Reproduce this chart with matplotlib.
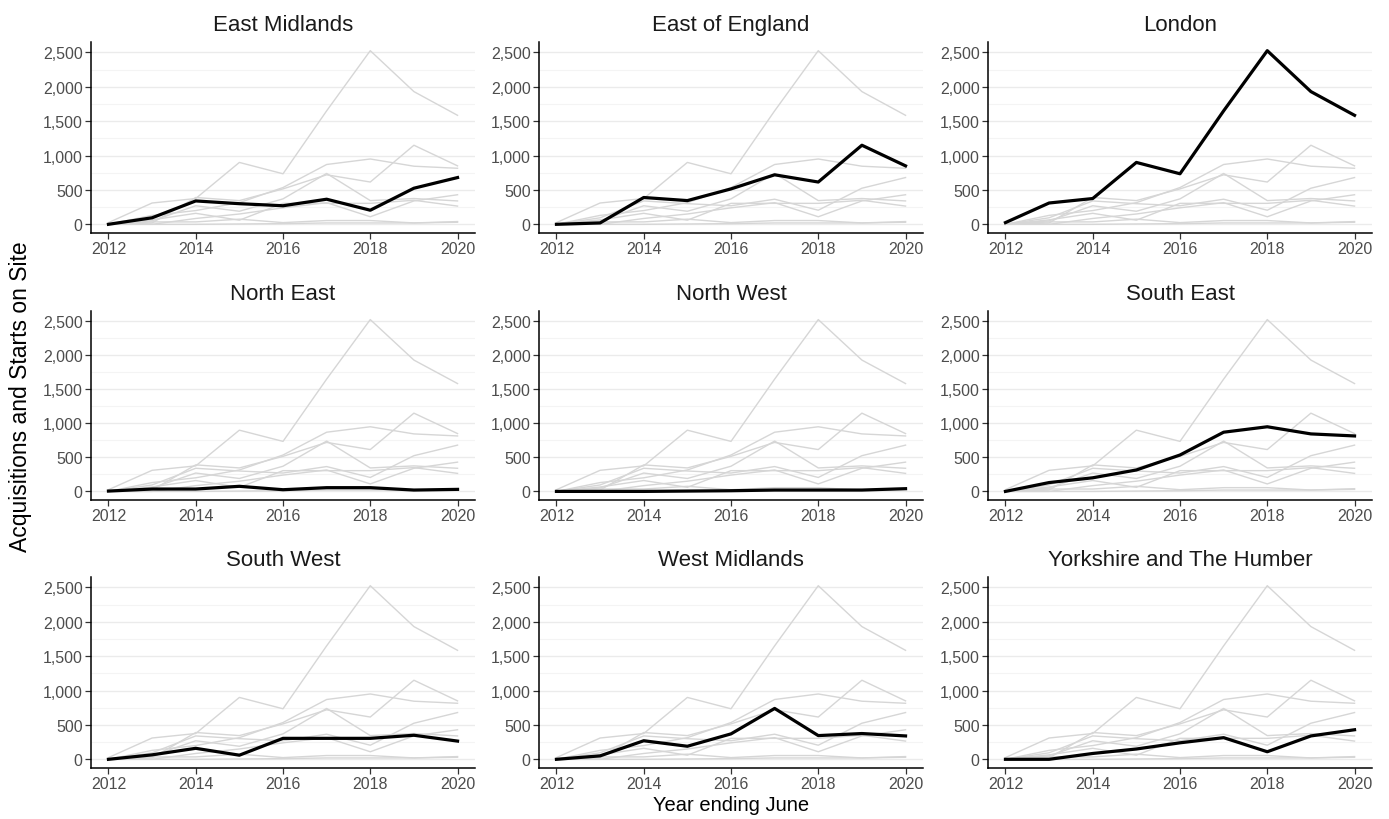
import numpy as np
import matplotlib
matplotlib.use('Agg')
import matplotlib.pyplot as plt
from matplotlib.ticker import FuncFormatter, MultipleLocator

plt.rcParams['font.family'] = ['Liberation Sans', 'DejaVu Sans']

years = [2012, 2013, 2014, 2015, 2016, 2017, 2018, 2019, 2020]

east_midlands = [0, 95, 340, 300, 270, 365, 205, 525, 680]
east_of_england = [0, 20, 390, 345, 515, 720, 615, 1150, 850]
london = [25, 310, 375, 900, 735, 1650, 2525, 1930, 1585]
north_east = [5, 35, 35, 75, 25, 55, 55, 20, 30]
north_west = [0, 0, 0, 5, 10, 20, 20, 20, 40]
south_east = [0, 130, 200, 315, 535, 870, 950, 845, 815]
south_west = [0, 65, 160, 60, 305, 305, 305, 350, 265]
west_midlands = [0, 50, 270, 190, 370, 740, 345, 375, 340]
yorkshire = [0, 0, 85, 150, 240, 315, 110, 340, 430]

regions = ['East Midlands', 'East of England', 'London',
           'North East', 'North West', 'South East',
           'South West', 'West Midlands', 'Yorkshire and The Humber']
series = [east_midlands, east_of_england, london,
          north_east, north_west, south_east,
          south_west, west_midlands, yorkshire]

W, H = 1389, 820
fig = plt.figure(figsize=(W / 100, H / 100), dpi=100)

# panel boxes in pixels: left, right / top, bottom
cols = [(91, 475), (539, 923), (988, 1372)]
rows = [(43, 234), (312, 501), (578, 769)]

ymax = max(max(s) for s in series)
ylim = (-0.05 * ymax, ymax * 1.05)
xlim = (2012 - 0.4, 2020 + 0.4)

for i, (name, vals) in enumerate(zip(regions, series)):
    l, r = cols[i % 3]
    t, b = rows[i // 3]
    ax = fig.add_axes([l / W, 1 - b / H, (r - l) / W, (b - t) / H])
    for other in series:
        ax.plot(years, other, color='#d6d6d6', lw=1.0, zorder=2)
    ax.plot(years, vals, color='black', lw=2.3, zorder=3, solid_joinstyle='round')
    ax.set_xlim(*xlim)
    ax.set_ylim(*ylim)
    ax.set_xticks([2012, 2014, 2016, 2018, 2020])
    ax.yaxis.set_major_locator(MultipleLocator(500))
    ax.yaxis.set_minor_locator(MultipleLocator(250))
    ax.yaxis.set_major_formatter(FuncFormatter(lambda v, p: f'{int(v):,}'))
    ax.grid(axis='y', which='major', color='#ebebeb', lw=1.0, zorder=0)
    ax.grid(axis='y', which='minor', color='#f4f4f4', lw=0.8, zorder=0)
    ax.set_axisbelow(True)
    for s in ['top', 'right']:
        ax.spines[s].set_visible(False)
    for s in ['left', 'bottom']:
        ax.spines[s].set_color('black')
        ax.spines[s].set_linewidth(1.1)
    ax.tick_params(which='major', length=4, width=0.9, color='#333333',
                   labelsize=11.5, labelcolor='#4d4d4d', pad=2)
    ax.tick_params(which='minor', length=0)
    ax.set_title(name, fontsize=16, color='#1a1a1a', pad=8.5)

fig.text(21 / W, 1 - 397 / H, 'Acquisitions and Starts on Site', rotation=90,
         ha='center', va='center', fontsize=16.5, color='black')
fig.text(731 / W, 1 - 806 / H, 'Year ending June', ha='center', va='center',
         fontsize=14.5, color='black')

plt.savefig('out.png', dpi=100, facecolor='white')
plt.close()
